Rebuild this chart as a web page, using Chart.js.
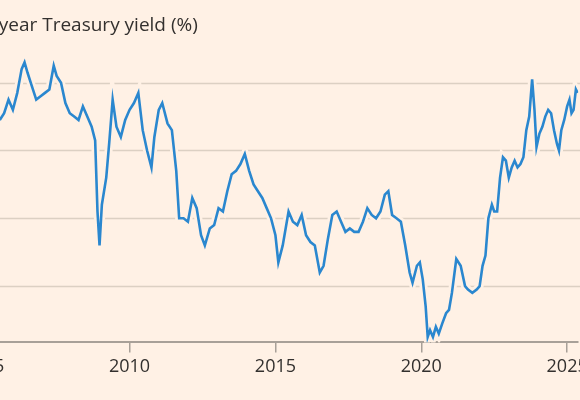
<!DOCTYPE html>
<html>
<head>
<meta charset="utf-8">
<script src="https://cdn.jsdelivr.net/npm/chart.js@4"></script>
<style>
  html, body { margin: 0; padding: 0; background: #fff1e5; }
  #wrap { width: 580px; height: 400px; overflow: hidden; position: relative; }
  #yieldChart { position: absolute; top: 0; left: 0; }
</style>
</head>
<body>
<div id="wrap"><canvas id="yieldChart" width="680" height="400"></canvas></div>
<script>
// 30-year Treasury yield (decimal year, %)
const years = [2005.55, 2005.7, 2005.85, 2006.0, 2006.15, 2006.3, 2006.4, 2006.5, 2006.65, 2006.8, 2006.95,
  2007.1, 2007.25, 2007.4, 2007.5, 2007.65, 2007.8, 2007.95, 2008.1, 2008.25, 2008.4, 2008.55, 2008.7, 2008.82,
  2008.9, 2008.97, 2009.05, 2009.2, 2009.3, 2009.42, 2009.55, 2009.7, 2009.85, 2010.0, 2010.15, 2010.3, 2010.45,
  2010.6, 2010.75, 2010.85, 2011.0, 2011.12, 2011.3, 2011.45, 2011.6, 2011.7, 2011.85, 2012.0, 2012.15, 2012.3,
  2012.45, 2012.58, 2012.75, 2012.9, 2013.05, 2013.2, 2013.35, 2013.5, 2013.65, 2013.8, 2013.95, 2014.1, 2014.25,
  2014.4, 2014.55, 2014.7, 2014.85, 2015.0, 2015.1, 2015.25, 2015.45, 2015.6, 2015.75, 2015.9, 2016.05, 2016.2,
  2016.35, 2016.52, 2016.65, 2016.8, 2016.95, 2017.1, 2017.25, 2017.4, 2017.55, 2017.7, 2017.85, 2018.0, 2018.15,
  2018.3, 2018.45, 2018.6, 2018.75, 2018.87, 2019.0, 2019.15, 2019.3, 2019.45, 2019.6, 2019.7, 2019.85, 2019.95,
  2020.05, 2020.15, 2020.22, 2020.3, 2020.4, 2020.5, 2020.6, 2020.72, 2020.85, 2020.95, 2021.05, 2021.2, 2021.35,
  2021.5, 2021.6, 2021.75, 2021.9, 2022.0, 2022.1, 2022.2, 2022.3, 2022.42, 2022.5, 2022.6, 2022.7, 2022.8,
  2022.9, 2023.0, 2023.1, 2023.2, 2023.3, 2023.4, 2023.5, 2023.6, 2023.7, 2023.8, 2023.88, 2023.95, 2024.05,
  2024.15, 2024.25, 2024.35, 2024.45, 2024.55, 2024.65, 2024.72, 2024.8, 2024.9, 2025.0, 2025.08, 2025.15,
  2025.22, 2025.3, 2025.36];
const yields = [4.45, 4.55, 4.75, 4.6, 4.85, 5.2, 5.3, 5.15, 4.95, 4.75, 4.8,
  4.85, 4.9, 5.25, 5.1, 5.0, 4.7, 4.55, 4.5, 4.45, 4.65, 4.5, 4.35, 4.15,
  3.1, 2.6, 3.2, 3.6, 4.1, 4.75, 4.35, 4.2, 4.45, 4.6, 4.7, 4.85, 4.3,
  4.0, 3.75, 4.2, 4.6, 4.7, 4.4, 4.3, 3.7, 3.0, 3.0, 2.95, 3.3, 3.15,
  2.75, 2.6, 2.85, 2.9, 3.15, 3.1, 3.4, 3.65, 3.7, 3.8, 3.95, 3.7, 3.5,
  3.4, 3.3, 3.15, 3.0, 2.75, 2.35, 2.6, 3.1, 2.95, 2.9, 3.05, 2.75, 2.65,
  2.6, 2.2, 2.3, 2.7, 3.05, 3.1, 2.95, 2.8, 2.85, 2.8, 2.8, 2.95, 3.15,
  3.05, 3.0, 3.1, 3.35, 3.4, 3.05, 3.0, 2.95, 2.6, 2.2, 2.05, 2.3, 2.35,
  2.1, 1.7, 1.25, 1.35, 1.25, 1.4, 1.3, 1.45, 1.6, 1.65, 1.9, 2.4, 2.3,
  2.0, 1.95, 1.9, 1.95, 2.0, 2.3, 2.45, 3.0, 3.2, 3.1, 3.1, 3.6, 3.9,
  3.85, 3.6, 3.75, 3.85, 3.75, 3.8, 3.9, 4.3, 4.5, 5.05, 4.6, 4.05, 4.25,
  4.35, 4.5, 4.6, 4.55, 4.3, 4.1, 4.0, 4.3, 4.45, 4.65, 4.75, 4.55,
  4.6, 4.9, 4.85];
const xTicks = [2005, 2010, 2015, 2020, 2025];
const yTicks = [2, 3, 4, 5];

const bg = '#fff1e5';
const points = years.map((x, i) => ({ x: x, y: yields[i] }));

// 제목: 보이는 영역 왼쪽에서 잘리도록 그리기
const titlePlugin = {
  id: 'cropTitle',
  afterDraw(chart) {
    const ctx = chart.ctx;
    ctx.save();
    ctx.font = '19px "Open Sans", sans-serif';
    ctx.fillStyle = '#33302e';
    ctx.textBaseline = 'middle';
    const cut = ctx.measureText('30-').width;
    ctx.fillText('30-year Treasury yield (%)', chart.chartArea.left - cut - 1, 26);
    ctx.restore();
  }
};

// y 격자선 (숨긴 y 축의 스케일로 위치 계산)
const yGridPlugin = {
  id: 'yGrid',
  beforeDatasetsDraw(c) {
    const ctx = c.ctx, area = c.chartArea, ys = c.scales.y;
    ctx.save();
    ctx.strokeStyle = '#dcd0c3';
    ctx.lineWidth = 1.5;
    yTicks.forEach(v => {
      const py = Math.round(ys.getPixelForValue(v)) + 0.5;
      ctx.beginPath(); ctx.moveTo(area.left, py); ctx.lineTo(area.right + 4, py); ctx.stroke();
    });
    ctx.restore();
  }
};

const canvas = document.getElementById('yieldChart');
const chart = new Chart(canvas, {
  type: 'line',
  data: {
    datasets: [
      { data: points, borderColor: '#2a87cf', borderWidth: 2.6, pointRadius: 0, tension: 0, order: 0 },
      { data: points, borderColor: bg, borderWidth: 8, pointRadius: 0, tension: 0, order: 1 }
    ]
  },
  options: {
    responsive: false,
    maintainAspectRatio: false,
    animation: false,
    layout: { padding: { top: 42, bottom: 18, left: 0, right: 0 } },
    plugins: { legend: { display: false }, tooltip: { enabled: false } },
    scales: {
      x: {
        type: 'linear',
        min: 2005.55,
        max: 2025.38,
        afterBuildTicks: axis => { axis.ticks = xTicks.map(v => ({ value: v })); },
        grid: { drawOnChartArea: false, drawTicks: true, tickLength: 10, color: '#a8a098', lineWidth: 1.5 },
        border: { display: true, color: '#a8a098', width: 2 },
        ticks: { color: '#33302e', font: { family: 'Open Sans', size: 18 }, padding: 4, maxRotation: 0, autoSkip: false,
          callback: v => String(v) }
      },
      y: { display: false, min: 1.17, max: 5.6 }
    }
  },
  plugins: [titlePlugin, yGridPlugin]
});

// 차트 영역이 화면 폭(0~578px)에 맞도록 캔버스 크기/위치 조정
const extra = 578 - (chart.chartArea.right - chart.chartArea.left);
chart.resize(680 + extra, 400);
canvas.style.left = (-chart.chartArea.left) + 'px';
</script>
</body>
</html>
